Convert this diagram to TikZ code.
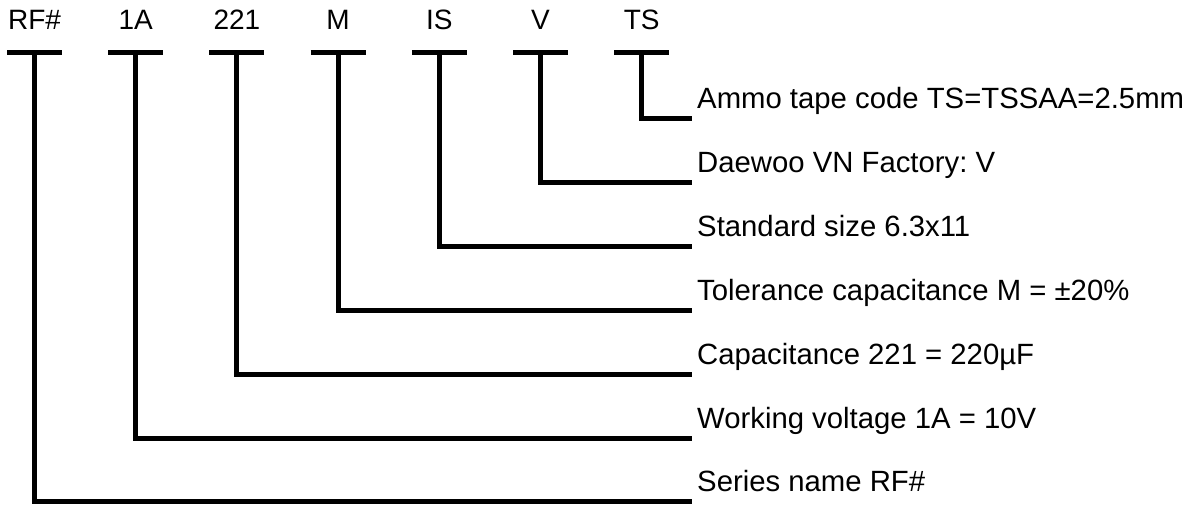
\documentclass[tikz,border=0pt]{standalone}
\usepackage{fontspec}
\setmainfont{Liberation Sans}
\frenchspacing

\tikzset{
	code/.style={anchor=base, inner sep=0pt, font=\fontsize{28}{34}\selectfont},
	desc/.style={anchor=base west, inner sep=0pt, font=\fontsize{29.3}{35}\selectfont},
	tee/.style={line width=5pt},
	leader/.style={line width=5pt, line join=miter}
}

\begin{document}
\begin{tikzpicture}[x=1pt, y=-1pt]
	\useasboundingbox (0, 0) rectangle (1193, 504);

	\node[code] (rf) at (34.5, 29.5) {RF\#};
	\node[code] (volt) at (135.7, 29.5) {1A};
	\node[code] (cap) at (236.9, 29.5) {221};
	\node[code] (tol) at (338.1, 29.5) {M};
	\node[code] (size) at (439.3, 29.5) {IS};
	\node[code] (fact) at (540.5, 29.5) {V};
	\node[code] (tape) at (641.7, 29.5) {TS};

	\coordinate (rfTop) at (34.5, 52.5);
	\coordinate (voltTop) at (135.7, 52.5);
	\coordinate (capTop) at (236.9, 52.5);
	\coordinate (tolTop) at (338.1, 52.5);
	\coordinate (sizeTop) at (439.3, 52.5);
	\coordinate (factTop) at (540.5, 52.5);
	\coordinate (tapeTop) at (641.7, 52.5);

	\coordinate (tapeEnd) at (691.5, 118);
	\coordinate (factEnd) at (691.5, 182);
	\coordinate (sizeEnd) at (691.5, 246);
	\coordinate (tolEnd) at (691.5, 310);
	\coordinate (capEnd) at (691.5, 374);
	\coordinate (voltEnd) at (691.5, 438);
	\coordinate (rfEnd) at (691.5, 501);

	\node[desc] (tapeDesc) at (697, 108) {Ammo tape code TS=TSSAA=2.5mm};
	\node[desc] (factDesc) at (697, 172) {Daewoo VN Factory: V};
	\node[desc] (sizeDesc) at (697, 236) {Standard size 6.3x11};
	\node[desc] (tolDesc) at (697, 300) {Tolerance capacitance M = ±20\%};
	\node[desc] (capDesc) at (697, 364) {Capacitance 221 = 220µF};
	\node[desc] (voltDesc) at (697, 428) {Working voltage 1A = 10V};
	\node[desc] (rfDesc) at (697, 491) {Series name RF\#};

	% bars under the codes
	\draw[tee] ([xshift=-27.5pt]rfTop) -- ([xshift=27.5pt]rfTop);
	\draw[tee] ([xshift=-27.5pt]voltTop) -- ([xshift=27.5pt]voltTop);
	\draw[tee] ([xshift=-27.5pt]capTop) -- ([xshift=27.5pt]capTop);
	\draw[tee] ([xshift=-27.5pt]tolTop) -- ([xshift=27.5pt]tolTop);
	\draw[tee] ([xshift=-27.5pt]sizeTop) -- ([xshift=27.5pt]sizeTop);
	\draw[tee] ([xshift=-27.5pt]factTop) -- ([xshift=27.5pt]factTop);
	\draw[tee] ([xshift=-27.5pt]tapeTop) -- ([xshift=27.5pt]tapeTop);

	% leaders to the descriptions
	\draw[leader] (tapeTop) |- (tapeEnd);
	\draw[leader] (factTop) |- (factEnd);
	\draw[leader] (sizeTop) |- (sizeEnd);
	\draw[leader] (tolTop) |- (tolEnd);
	\draw[leader] (capTop) |- (capEnd);
	\draw[leader] (voltTop) |- (voltEnd);
	\draw[leader] (rfTop) |- (rfEnd);

\end{tikzpicture}
\end{document}
